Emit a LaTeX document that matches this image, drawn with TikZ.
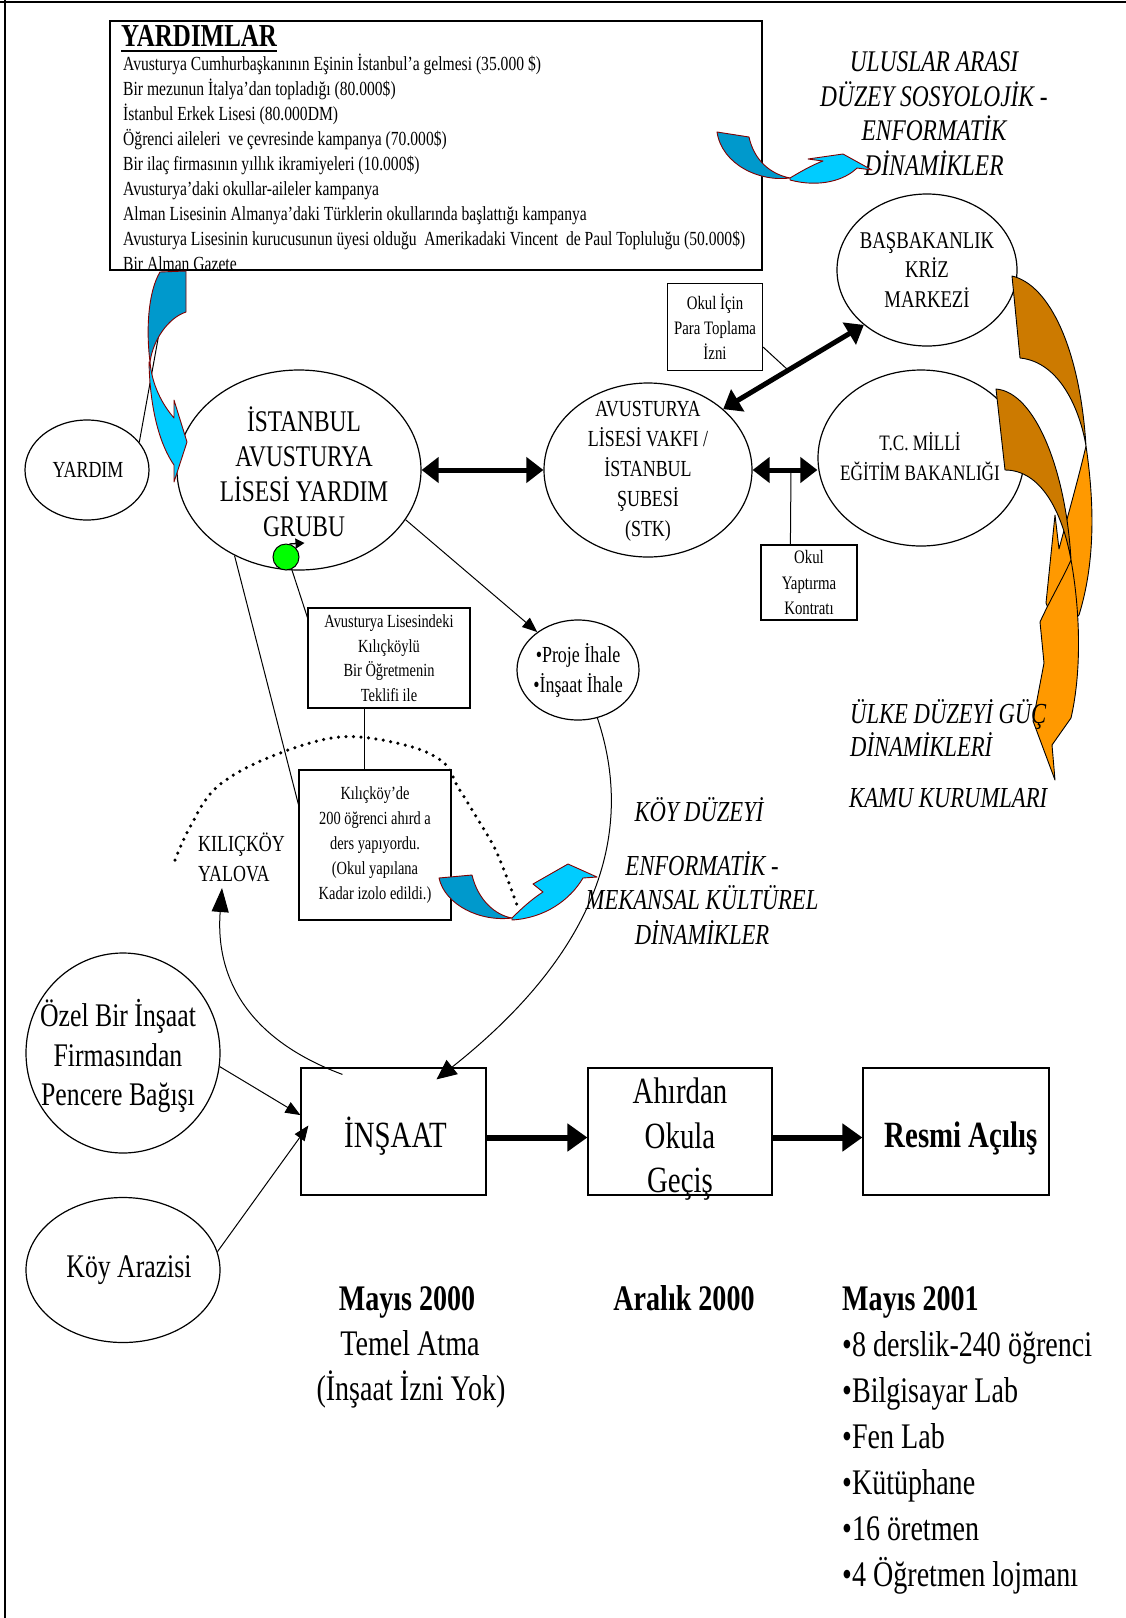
\documentclass[tikz,border=0pt]{standalone}
\usepackage{fontspec}
\setmainfont{Liberation Serif}[FakeStretch=0.78]
\usetikzlibrary{shapes.geometric,arrows.meta,calc}
\definecolor{bdark}{HTML}{0099CC}
\definecolor{blight}{HTML}{00CCFF}
\definecolor{bedge}{HTML}{800000}
\definecolor{odark}{HTML}{CC7A00}
\definecolor{olight}{HTML}{FF9900}
\definecolor{gball}{HTML}{00FF00}
\newcommand\myfs[2]{\fontsize{#1}{#2}\selectfont}
\tikzset{
  every node/.style={inner sep=0pt},
  ell/.style={draw, ellipse, line width=1.2pt, fill=white},
  bx/.style={draw, rectangle, line width=1.2pt, fill=white, align=center},
  lnk/.style={line width=1pt},
  atip/.style={-{Triangle[length=15pt,width=12pt]}},
  atipb/.style={-{Triangle[length=20pt,width=18pt]}},
  atipc/.style={-{Triangle[length=24pt,width=17pt]}},
  dbl/.style={line width=5pt, {Triangle[length=17pt,width=25pt]}-{Triangle[length=17pt,width=25pt]}},
  fwd/.style={line width=6pt, -{Triangle[length=20pt,width=27pt]}},
  bshape/.style={draw=bedge, line width=0.9pt, line join=round},
  oshape/.style={draw=black, line width=0.9pt, line join=round},
}
\begin{document}
\begin{tikzpicture}[x=1pt,y=-1pt]
\useasboundingbox (0,0) rectangle (1126,1618);
\fill[white] (0,0) rectangle (1126,1618);
% page border (top and left)
\draw[line width=2pt] (0,2) -- (1126,2);
\draw[line width=2pt] (5,0) -- (5,1618);

% dotted village outline
\draw[line width=3.5pt, dash pattern=on 0pt off 7.5pt, line cap=round]
  plot[smooth, tension=0.6] coordinates {(175,860) (190,827) (217,787) (270,757) (340,737) (405,745) (443,762) (458,787) (477,818) (497,853) (518,908)};

% ellipses
\node[ell, minimum width=244, minimum height=200] (grp) at (299,470) {};
\node[ell, minimum width=124, minimum height=100] (yardim) at (87,470) {};
\node[ell, minimum width=208, minimum height=174] (stk) at (648,470) {};
\node[ell, minimum width=180, minimum height=152] (bas) at (927,270) {};
\node[ell, minimum width=206, minimum height=176] (tc) at (921,458) {};
\node[ell, minimum width=122, minimum height=100] (proje) at (578,670) {};
\node[ell, minimum width=194, minimum height=200] (ozel) at (123,1053) {};
\node[ell, minimum width=194, minimum height=145] (koy) at (123,1270) {};

% boxes
\node[bx, minimum width=652, minimum height=249] (yl) at (436,145.5) {};
\node[bx, minimum width=95, minimum height=87, font=\myfs{19}{25}] (okul1) at (715,327) {Okul İçin\\Para Toplama\\İzni};
\node[bx, minimum width=96, minimum height=75, font=\myfs{19}{25.5}] (okul2) at (809,582.5) {Okul\\Yaptırma\\Kontratı};
\node[bx, minimum width=162, minimum height=100, font=\myfs{18.5}{24.5}] (avbox) at (389,658) {Avusturya Lisesindeki\\Kılıçköylü\\Bir Öğretmenin\\Teklifi ile};
\node[bx, minimum width=152, minimum height=150, font=\myfs{18.5}{25}] (kbox) at (375,845) {Kılıçköy’de\\200 öğrenci ahırd a\\ders yapıyordu.\\(Okul yapılana\\Kadar izolo edildi.)};
\node[bx, minimum width=185, minimum height=127] (insaat) at (393.5,1131.5) {};
\node[bx, minimum width=184, minimum height=127] (ahir) at (680,1131.5) {};
\node[bx, minimum width=186, minimum height=127] (resmi) at (956,1131.5) {};
\node[font=\myfs{37}{40}] (insaatt) at ($(insaat)+(2,5)$) {İNŞAAT};
\node[font=\myfs{37}{44.5}, align=center] (ahirt) at ($(ahir)+(0,8)$) {Ahırdan\\Okula\\Geçiş};
\node[font=\bfseries\myfs{37}{40}] (resmit) at ($(resmi)+(5,7)$) {Resmi Açılış};

\node[circle, draw, fill=gball, minimum size=26, line width=1pt] (green) at (286,557) {};

% ellipse texts
\node[font=\myfs{30}{35}, align=center] (grpt) at (304,472) {İSTANBUL\\AVUSTURYA\\LİSESİ YARDIM\\GRUBU};
\node[font=\myfs{23}{28}] (yardimt) at (88,470) {YARDIM};
\node[font=\myfs{23}{30}, align=center] (stkt) at (648,471) {AVUSTURYA\\LİSESİ VAKFI /\\İSTANBUL\\ŞUBESİ\\(STK)};
\node[font=\myfs{24}{29.5}, align=center] (bast) at (927,270) {BAŞBAKANLIK\\KRİZ\\MARKEZİ};
\node[font=\myfs{22}{30}, align=center] (tct) at (920,457) {T.C. MİLLİ\\EĞİTİM BAKANLIĞI};
\node[font=\myfs{23}{30}, align=center] (projet) at (578,670) {•Proje İhale\\•İnşaat İhale};
\node[font=\myfs{33}{39.5}, align=center] (ozelt) at (118,1056) {Özel Bir İnşaat\\Firmasından\\Pencere Bağışı};
\node[font=\myfs{33}{36}] (koyt) at (129,1270) {Köy Arazisi};

% YARDIMLAR list
\node[font=\bfseries\myfs{32}{32}, anchor=base west] (ttl) at (121,46) {YARDIMLAR};
\draw[line width=2.5pt] ($(ttl.base west)+(0,5)$) -- ($(ttl.base east)+(0,5)$);
\foreach \t [count=\i] in {
  {Avusturya Cumhurbaşkanının Eşinin İstanbul’a gelmesi (35.000 \$)},
  {Bir mezunun İtalya’dan topladığı (80.000\$)},
  {İstanbul Erkek Lisesi (80.000DM)},
  {Öğrenci aileleri \ ve çevresinde kampanya (70.000\$)},
  {Bir ilaç firmasının yıllık ikramiyeleri (10.000\$)},
  {Avusturya’daki okullar-aileler kampanya},
  {Alman Lisesinin Almanya’daki Türklerin okullarında başlattığı kampanya},
  {Avusturya Lisesinin kurucusunun üyesi olduğu \ Amerikadaki Vincent \ de Paul Topluluğu (50.000\$)},
  {Bir Alman Gazete}}
  \node[font=\myfs{20}{25}, anchor=base west] (yl\i) at (123,45+25*\i) {\t};

% other labels
\node[font=\itshape\myfs{30}{34.5}, align=center] (ulus) at (934,113.5) {ULUSLAR ARASI\\DÜZEY SOSYOLOJİK -\\ENFORMATİK\\DİNAMİKLER};
\node[font=\itshape\myfs{29}{33}, anchor=west] (kamu) at (849,798) {KAMU KURUMLARI};
\node[font=\itshape\myfs{29}{33}] (koyd) at (699,810) {KÖY DÜZEYİ};
\node[font=\itshape\myfs{29}{34.5}, align=center] (enf) at (702,898) {ENFORMATİK -\\MEKANSAL KÜLTÜREL\\DİNAMİKLER};
\node[font=\myfs{23}{30}, align=left, anchor=west] (kil) at (198,857) {KILIÇKÖY\\YALOVA};

% bottom texts
\node[font=\bfseries\myfs{36}{40}, anchor=base] (may0) at (407,1310) {Mayıs 2000};
\node[font=\myfs{36}{40}, anchor=base] (temel) at (410,1355) {Temel Atma};
\node[font=\myfs{36}{40}, anchor=base] (izin) at (411,1400) {(İnşaat İzni Yok)};
\node[font=\bfseries\myfs{36}{40}, anchor=base] (aral) at (684,1310) {Aralık 2000};
\node[font=\bfseries\myfs{36}{40}, anchor=base west] (may1) at (842,1310) {Mayıs 2001};
\foreach \t [count=\i] in {{•8 derslik-240 öğrenci},{•Bilgisayar Lab},{•Fen Lab},{•Kütüphane},{•16 öretmen},{•4 Öğretmen lojmanı}}
  \node[font=\myfs{36}{40}, anchor=base west] (mb\i) at (842,1310+46*\i) {\t};

% connectors
\coordinate (arrA) at (788,370);
\coordinate (arrB) at (791,470);
\coordinate (kiltip) at (222,888);
\draw[lnk] (yardim.28) -- ($(yl.south west)+(61,0)$);
\draw[lnk] (grp.-127) -- ($(kbox.north west)+(0,35)$);
\draw[lnk] (green.-65) -- ($(avbox.north west)+(0,10)$);
\draw[lnk] ($(avbox.south west)+(57,0)$) -- ($(kbox.north west)+(66,0)$);
\draw[lnk, atip] (grp.-25) -- (proje.137);
\draw[lnk, atipb] (proje.-68) .. controls (635,830) and (600,950) .. ($(insaat.north)+(43,12)$);
\draw[lnk, atipc] ($(insaat.north west)+(42,7)$) .. controls (250,1040) and (215,980) .. (kiltip);
\draw[lnk, atip] (ozel.-8) -- (insaat.170);
\draw[lnk, atip] (koy.11) -- ($(insaat.west)+(8,-6)$);
\draw[lnk] ($(okul1.south east)+(0,-24)$) -- (arrA);
\draw[lnk] (arrB) -- ($(okul2.north west)+(30,0)$);
\draw[dbl] (grp.east) -- (stk.west);
\draw[dbl] (stk.east) -- (stk.east -| tc.west);
\draw[dbl] (stk.39) -- (bas.-139);
\draw[fwd] ($(insaat.east)+(0,6)$) -- ($(ahir.west)+(0,6)$);
\draw[fwd] ($(ahir.east)+(0,6)$) -- ($(resmi.west)+(0,6)$);
\draw[line width=1.3pt, -{Triangle[length=9pt,width=10pt]}] (green.75) -- ++(15,-1);

% blue curved arrow: YARDIMLAR -> group
\filldraw[bshape, fill=bdark] (160,272) -- (186,271) -- (186,312) .. controls (168,318) and (153,340) .. (150,362) .. controls (146,330) and (148,292) .. (160,272) -- cycle;
\filldraw[bshape, fill=blight] (149,362) .. controls (150,410) and (160,445) .. (174,465) -- (174,482) -- (187,442) -- (174,400) -- (174,418) .. controls (162,404) and (152,385) .. (150,362) -- cycle;
% blue curved arrow: top right
\filldraw[bshape, fill=bdark] (717,132) -- (749,137) .. controls (754,160) and (770,174) .. (790,178) .. controls (760,182) and (722,165) .. (717,132) -- cycle;
\filldraw[bshape, fill=blight] (790,178) .. controls (800,172) and (812,165) .. (823,161) -- (808,159) -- (843,154) -- (872,170) -- (857,168) .. controls (845,180) and (820,188) .. (790,180) -- cycle;
% blue curved arrow: village
\filldraw[bshape, fill=bdark] (439,878) -- (472,875) .. controls (478,900) and (495,915) .. (512,918) .. controls (480,922) and (445,905) .. (439,878) -- cycle;
\filldraw[bshape, fill=blight] (512,918) .. controls (525,905) and (535,897) .. (543,892) -- (533,884) -- (568,864) -- (597,877) -- (583,878) .. controls (570,900) and (545,918) .. (512,920) -- cycle;

% orange curved arrows
\filldraw[oshape, fill=odark] (1012,276) .. controls (1050,285) and (1080,350) .. (1086,446) .. controls (1080,410) and (1060,362) .. (1020,358) -- cycle;
\filldraw[oshape, fill=olight] (1086,446) .. controls (1094,500) and (1096,560) .. (1079,615) -- (1059,635) -- (1046,603) -- (1055,515) -- (1059,549) .. controls (1068,515) and (1078,480) .. (1086,446) -- cycle;
\filldraw[oshape, fill=odark] (996,389) .. controls (1035,392) and (1066,470) .. (1071,560) .. controls (1062,510) and (1040,470) .. (1005,470) -- cycle;
\filldraw[oshape, fill=olight] (1071,560) .. controls (1080,610) and (1082,670) .. (1071,718) -- (1052,745) -- (1055,780) -- (1033,721) -- (1044,663) -- (1040,622) .. controls (1050,600) and (1062,580) .. (1071,560) -- cycle;

\node[font=\itshape\myfs{29}{33}, align=left, anchor=west] (ulke) at (850,728.5) {ÜLKE DÜZEYİ GÜÇ\\DİNAMİKLERİ};
\end{tikzpicture}
\end{document}
